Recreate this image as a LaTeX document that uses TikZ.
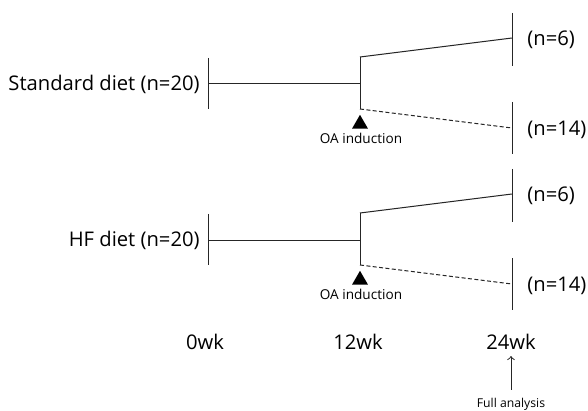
\documentclass[tikz,border=0pt]{standalone}
\usepackage{fontspec}
\setmainfont{Open Sans}
\usetikzlibrary{shapes.geometric,arrows,positioning}
\tikzset{group label/.style={anchor=east,inner sep=0pt,font=\fontsize{10.1}{12}\selectfont},
         count label/.style={anchor=west,inner sep=0pt,font=\fontsize{10.1}{12}\selectfont},
         time label/.style={inner sep=0pt,font=\fontsize{10.1}{12}\selectfont},
         small label/.style={inner sep=0pt,font=\fontsize{6.8}{8}\selectfont},
         note label/.style={inner sep=0pt,font=\fontsize{6.1}{7}\selectfont},
         induction mark/.style={regular polygon,regular polygon sides=3,fill=black,draw=none,minimum size=9.2pt,inner sep=0pt},
         branch/.style={line width=0.5pt,draw=black!85},
         dashed branch/.style={branch,dash pattern=on 2pt off 1.2pt}
}
\begin{document}
\begin{tikzpicture}[x=0.5pt,y=-0.5pt,>=to]
\useasboundingbox (0,0) rectangle (588,411);

% standard diet
\node [group label] (sd) at (200,84) {Standard diet (n=20)};
\coordinate (s0) at (208,84);
\coordinate (s1) at (360,84);
\coordinate (s2) at (360,57);
\coordinate (s3) at (360,109);
\coordinate (s4) at (512,38);
\coordinate (s5) at (512,128);
\draw [branch] (s0) -- (s1);
\draw [branch] (s2) -- (s3);
\draw [branch] (s2) -- (s4);
\draw [dashed branch] (s3) -- (s5);
\draw [branch] (208,58) -- (208,109);
\draw [branch] (512,13) -- (512,66);
\draw [branch] (512,102) -- (512,154);
\node [induction mark] (st) at (360,124) {};
\node [small label] (so) at (361,138) {OA induction};
\node [count label] (sa) at (527,40) {(n=6)};
\node [count label] (sb) at (527,130) {(n=14)};

% HF diet
\node [group label] (hf) at (200,240) {HF diet (n=20)};
\coordinate (h0) at (208,240);
\coordinate (h1) at (360,240);
\coordinate (h2) at (360,213);
\coordinate (h3) at (360,265);
\coordinate (h4) at (512,194);
\coordinate (h5) at (512,284);
\draw [branch] (h0) -- (h1);
\draw [branch] (h2) -- (h3);
\draw [branch] (h2) -- (h4);
\draw [dashed branch] (h3) -- (h5);
\draw [branch] (208,214) -- (208,265);
\draw [branch] (512,169) -- (512,222);
\draw [branch] (512,258) -- (512,310);
\node [induction mark] (ht) at (360,280) {};
\node [small label] (ho) at (361,294) {OA induction};
\node [count label] (ha) at (527,196) {(n=6)};
\node [count label] (hb) at (527,286) {(n=14)};

% time axis
\node [time label] (w0) at (205,342) {0wk};
\node [time label] (w12) at (358,342) {12wk};
\node [time label] (w24) at (511,342) {24wk};
\node [note label] (fa) at (511,404) {Full analysis};
\draw [branch,->,shorten <=4pt,shorten >=3pt] (fa) -- (w24);
\end{tikzpicture}
\end{document}
